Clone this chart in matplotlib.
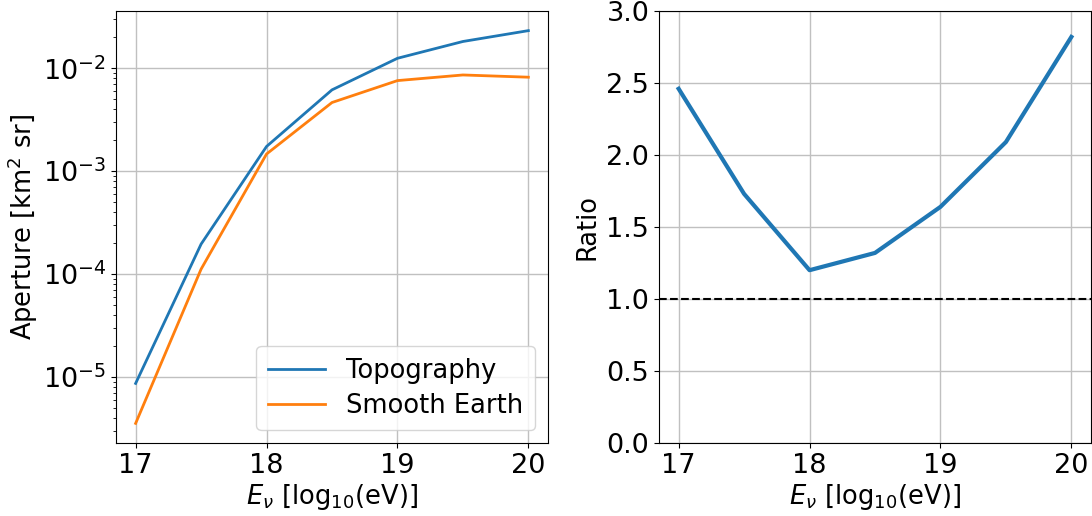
import matplotlib
matplotlib.use("Agg")
import matplotlib.pyplot as plt

energy = [17.0, 17.5, 18.0, 18.5, 19.0, 19.5, 20.0]
topography = [8.7e-6, 1.96e-4, 1.74e-3, 6.17e-3, 1.25e-2, 1.82e-2, 2.32e-2]
smooth_earth = [3.56e-6, 1.12e-4, 1.47e-3, 4.65e-3, 7.59e-3, 8.61e-3, 8.19e-3]
ratio = [2.46, 1.73, 1.20, 1.32, 1.64, 2.09, 2.82]
xticks = [17, 18, 19, 20]
ratio_ticks = [0.0, 0.5, 1.0, 1.5, 2.0, 2.5, 3.0]

plt.rcParams['font.size'] = 19.5
plt.rcParams['axes.labelsize'] = 18.5
W, H = 1092, 516
fig = plt.figure(figsize=(W / 100, H / 100), dpi=100)

ax1 = fig.add_axes([116 / W, (H - 443) / H, 432 / W, 432 / H])
ax1.plot(energy, topography, color='#1f77b4', lw=2, label='Topography')
ax1.plot(energy, smooth_earth, color='#ff7f0e', lw=2, label='Smooth Earth')
ax1.set_yscale('log')
ax1.set_xticks(xticks)
ax1.grid(True, which='major', color='#c0c0c0', lw=1)
ax1.set_xlabel(r'$E_{\nu}$ [log$_{10}$(eV)]', labelpad=2)
ax1.set_ylabel(r'Aperture [km$^2$ sr]', labelpad=2)
ax1.legend(loc='lower right', fontsize=18.5, handlelength=2.2, handletextpad=0.85,
           borderpad=0.45, labelspacing=0.35)

ax2 = fig.add_axes([659 / W, (H - 443) / H, 432 / W, 432 / H])
ax2.plot(energy, ratio, color='#1f77b4', lw=3)
ax2.axhline(1.0, color='black', ls='--', lw=1.5)
ax2.set_ylim(0, 3)
ax2.set_yticks(ratio_ticks)
ax2.set_xticks(xticks)
ax2.grid(True, color='#c0c0c0', lw=1)
ax2.set_xlabel(r'$E_{\nu}$ [log$_{10}$(eV)]', labelpad=2)
ax2.set_ylabel('Ratio')

fig.savefig('out.png', dpi=100)
